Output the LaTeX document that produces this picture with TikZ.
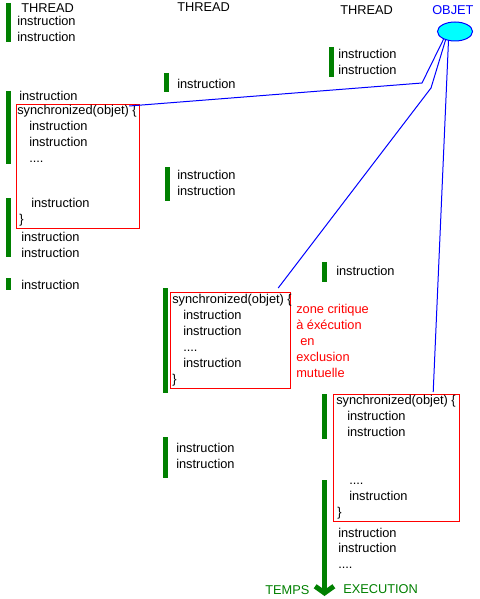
\documentclass[tikz,border=0pt]{standalone}
\usepackage{fontspec}
\setmainfont{Liberation Sans}
\usepackage{tikz}
\usetikzlibrary{shapes.geometric,arrows.meta,calc}
\usepackage{xcolor}
\definecolor{thgreen}{HTML}{008000}
\definecolor{objblue}{HTML}{0000FF}
\definecolor{objcyan}{HTML}{00FFFF}
\definecolor{zonered}{HTML}{FF0000}

\begin{document}
\begin{tikzpicture}[x=0.75pt,y=-0.75pt,font=\fontsize{9.6}{12}\selectfont,
  txt/.style={anchor=base west,inner sep=0pt},
  bar/.style={draw=thgreen,line width=3.75pt},
  sync/.style={draw=zonered,line width=0.9pt,anchor=north west,inner sep=0pt},
  lien/.style={draw=objblue,line width=0.75pt}]
\useasboundingbox (0,0) rectangle (479,599);
% thread 1
\node[txt] (th1) at (21,13) {THREAD};
\node[txt] (a1) at (17,26) {instruction};
\node[txt] (a2) at (17,42) {instruction};
\node[txt] (a3) at (19,101) {instruction};
\node[sync,minimum width=92.25pt,minimum height=93pt] (sync1) at (16,104) {};
\node[txt] (s1) at (17,114.5) {synchronized(objet) \{};
\node[txt] (s1a) at (29,130.5) {instruction};
\node[txt] (s1b) at (29,146.5) {instruction};
\node[txt] (s1c) at (29,162.5) {....};
\node[txt] (s1d) at (31,207.5) {instruction};
\node[txt] (s1e) at (19,223.5) {\}};
\node[txt] (a4) at (21,241.5) {instruction};
\node[txt] (a5) at (21,257.5) {instruction};
\node[txt] (a6) at (21,289.5) {instruction};
\draw[bar] (8.5,3) -- (8.5,42); \draw[bar] (8.5,91) -- (8.5,164);
\draw[bar] (8.5,198) -- (8.5,257); \draw[bar] (8.5,278) -- (8.5,290);
% thread 2
\node[txt] (th2) at (177,12) {THREAD};
\node[txt] (b1) at (177,88.5) {instruction};
\node[txt] (b2) at (177,179.5) {instruction};
\node[txt] (b3) at (177,195.5) {instruction};
\node[sync,minimum width=90pt,minimum height=72pt] (sync2) at (170,292) {};
\node[txt] (s2) at (172,303.5) {synchronized(objet) \{};
\node[txt] (s2a) at (183,319.5) {instruction};
\node[txt] (s2b) at (183,335.5) {instruction};
\node[txt] (s2c) at (183,351.5) {....};
\node[txt] (s2d) at (183,367.5) {instruction};
\node[txt] (s2e) at (172,383.5) {\}};
% base of a multi-line node = last line
\node[txt,align=left,text=zonered] (crit) at (296,377.5)
  {zone critique\\à éxécution\\\hspace*{3pt}en\\exclusion\\mutuelle};
\node[txt] (b4) at (176,452) {instruction};
\node[txt] (b5) at (176,468) {instruction};
\draw[bar] (166.5,73) -- (166.5,92); \draw[bar] (167.5,167) -- (167.5,201);
\draw[bar] (165.5,288) -- (165.5,393); \draw[bar] (165.5,437) -- (165.5,478);
% thread 3
\node[txt] (th3) at (340,15) {THREAD};
\node[txt] (c1) at (338,59) {instruction};
\node[txt] (c2) at (338,75) {instruction};
\node[txt] (c3) at (336,275) {instruction};
\node[sync,minimum width=94.5pt,minimum height=95.25pt] (sync3) at (333,394) {};
\node[txt] (s3) at (336,404.5) {synchronized(objet) \{};
\node[txt] (s3a) at (347,420.5) {instruction};
\node[txt] (s3b) at (347,436.5) {instruction};
\node[txt] (s3c) at (349,484.5) {....};
\node[txt] (s3d) at (349,500.5) {instruction};
\node[txt] (s3e) at (337,516.5) {\}};
\node[txt] (c4) at (338,537) {instruction};
\node[txt] (c5) at (338,552.5) {instruction};
\node[txt] (c6) at (338,568) {....};
\draw[bar] (331.5,47) -- (331.5,77); \draw[bar] (324,262) -- (324,282);
\draw[bar] (324.5,394) -- (324.5,439);
\draw[bar,-{Straight Barb[length=5pt,width=14pt]}] (324.5,480) -- (324.5,596);
\node[txt,text=thgreen] (temps) at (265,594) {TEMPS};
\node[txt,text=thgreen] (exec) at (343,593) {EXECUTION};
% objet
\node[txt,text=objblue] (objlab) at (432,15) {OBJET};
\node[ellipse,draw=objblue,fill=objcyan,line width=0.75pt,inner sep=0pt,
  minimum width=26.25pt,minimum height=14.25pt] (obj) at (455,31.5) {};
\draw[lien] ($(sync1.north east)+(-11,2)$) -- (422,83) -- (obj.-146);
\draw[lien] ($(sync2.north east)+(-13,-4)$) -- (431,88) -- (obj.-138);
\draw[lien] ($(sync3.north east)+(-27,-2)$) -- (obj.-125);
\end{tikzpicture}
\end{document}
